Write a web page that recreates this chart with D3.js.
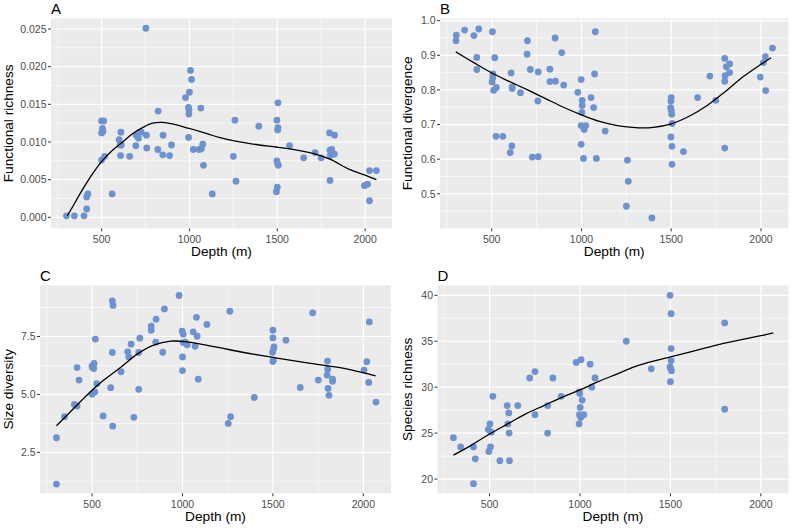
<!DOCTYPE html>
<html>
<head>
<meta charset="utf-8">
<script src="https://cdn.jsdelivr.net/npm/d3@7"></script>
<style>
  html, body { margin: 0; padding: 0; background: #ffffff; }
  svg { display: block; }
  text { font-family: "Liberation Sans", Arial, Helvetica, sans-serif; font-weight: 400; }
</style>
</head>
<body>
<script>
// ---------------- DATA ----------------
const xTicks = [500, 1000, 1500, 2000];

const yTicksA = [0, 0.005, 0.010, 0.015, 0.020, 0.025];
const yTicksB = [0.5, 0.6, 0.7, 0.8, 0.9, 1.0];
const yTicksC = [2.5, 5.0, 7.5];
const yTicksD = [20, 25, 30, 35, 40];

// Panel A: Functional richness vs depth
const pointsA = [
  [300,0.0002],[345,0.0002],[400,0.0002],[415,0.0011],[415,0.0027],[422,0.0031],[560,0.0031],
  [500,0.0076],[517,0.0081],[500,0.0112],[508,0.0114],[505,0.0118],[500,0.0128],[512,0.0128],
  [610,0.0113],[600,0.0103],[606,0.0096],[612,0.0096],[608,0.0082],[660,0.0081],[695,0.0095],
  [697,0.0109],[710,0.0105],[725,0.0113],[755,0.0109],[757,0.0092],[752,0.0251],[822,0.0141],
  [820,0.0090],[850,0.0109],[848,0.0083],[887,0.0082],[898,0.0096],[978,0.0159],[995,0.0146],
  [997,0.0143],[997,0.0137],[995,0.0106],[1000,0.0166],[1006,0.0195],[1012,0.0183],[1022,0.0090],
  [1065,0.0145],[1055,0.0090],[1068,0.0091],[1076,0.0097],[1080,0.0069],[1130,0.0031],
  [1259,0.0129],[1250,0.0081],[1265,0.0048],[1395,0.0121],[1504,0.0152],[1498,0.0129],
  [1504,0.0119],[1502,0.0116],[1498,0.0075],[1502,0.0071],[1506,0.0069],[1500,0.0040],
  [1495,0.0034],[1570,0.0095],[1650,0.0079],[1715,0.0086],[1750,0.0079],[1798,0.0112],
  [1826,0.0109],[1800,0.0089],[1810,0.0090],[1825,0.0084],[1802,0.0082],[1800,0.0049],
  [1996,0.0042],[2014,0.0044],[2025,0.0062],[2064,0.0062],[2025,0.0022]
];
const smoothA = [
  [305,0.0002],[335,0.0014],[392,0.0037],[449,0.0058],[500,0.0074],[562,0.0089],[619,0.0100],
  [676,0.0111],[733,0.0119],[790,0.0125],[847,0.0126],[903,0.0124],[998,0.0118],[1100,0.0111],
  [1169,0.0106],[1263,0.0101],[1396,0.0096],[1500,0.0093],[1642,0.0088],[1718,0.0084],
  [1803,0.0077],[1907,0.0064],[2000,0.0056],[2064,0.0050]
];

// Panel B: Functional divergence vs depth
const pointsB = [
  [301,0.942],[303,0.958],[349,0.973],[401,0.957],[428,0.976],[417,0.894],[417,0.859],[504,0.968],
  [517,0.893],[507,0.846],[506,0.835],[502,0.823],[511,0.799],[526,0.807],[524,0.666],[562,0.666],
  [608,0.849],[614,0.809],[614,0.804],[612,0.638],[603,0.619],[660,0.792],[699,0.942],[697,0.903],
  [715,0.859],[726,0.606],[759,0.607],[759,0.852],[757,0.768],[824,0.860],[824,0.824],[853,0.950],
  [855,0.825],[890,0.908],[901,0.814],[980,0.793],[998,0.830],[1004,0.770],[1004,0.755],[1002,0.735],
  [998,0.697],[998,0.643],[1011,0.694],[1015,0.686],[1024,0.697],[1011,0.602],[1053,0.778],
  [1068,0.749],[1073,0.846],[1077,0.968],[1083,0.602],[1132,0.681],[1256,0.597],[1261,0.536],
  [1250,0.464],[1392,0.430],[1500,0.778],[1498,0.768],[1497,0.749],[1500,0.741],[1503,0.730],
  [1505,0.703],[1498,0.664],[1504,0.637],[1504,0.585],[1568,0.622],[1647,0.778],[1715,0.840],
  [1748,0.770],[1798,0.891],[1807,0.867],[1825,0.875],[1800,0.841],[1825,0.850],[1798,0.825],
  [1798,0.632],[1996,0.837],[2013,0.879],[2024,0.896],[2026,0.798],[2064,0.921]
];
const smoothB = [
  [300,0.910],[400,0.879],[500,0.849],[600,0.824],[700,0.800],[800,0.775],[900,0.750],
  [1000,0.728],[1100,0.709],[1200,0.697],[1300,0.691],[1400,0.692],[1500,0.702],[1600,0.724],
  [1700,0.755],[1800,0.795],[1900,0.838],[2000,0.874],[2056,0.893]
];

// Panel C: Size diversity vs depth
const pointsC = [
  [303,1.13],[303,3.13],[347,4.04],[402,4.57],[417,4.50],[417,6.16],[428,5.62],[500,5.01],
  [515,5.11],[526,5.46],[502,6.16],[511,6.34],[509,6.12],[500,6.22],[518,7.39],[561,4.07],
  [603,5.29],[612,9.04],[616,8.84],[612,6.81],[614,3.63],[660,5.98],[697,6.84],[703,6.62],
  [716,7.17],[731,4.01],[758,6.81],[764,7.43],[758,5.22],[827,7.77],[827,7.95],[854,8.25],
  [852,7.26],[891,6.82],[900,8.69],[981,9.27],[998,7.73],[1004,7.60],[1004,7.24],[1000,6.62],
  [1000,6.03],[1015,7.26],[1026,7.14],[1059,7.70],[1077,8.33],[1081,7.51],[1070,7.08],
  [1087,5.66],[1135,8.02],[1262,8.59],[1253,3.75],[1266,4.04],[1397,4.87],[1500,7.77],
  [1500,7.44],[1506,7.05],[1504,6.97],[1498,6.82],[1500,6.42],[1502,6.48],[1572,7.34],
  [1651,5.30],[1720,8.52],[1751,5.62],[1802,6.44],[1803,6.09],[1800,5.83],[1805,5.26],
  [1810,4.96],[1830,5.66],[1830,5.57],[2004,6.05],[2019,6.41],[2033,8.13],[2030,5.52],[2070,4.67]
];
const smoothC = [
  [303,3.65],[399,4.40],[491,5.12],[565,5.62],[657,6.16],[749,6.74],[841,7.13],[934,7.30],
  [1026,7.27],[1183,7.05],[1340,6.81],[1506,6.59],[1708,6.34],[1893,6.12],[2068,5.80]
];

// Panel D: Species richness vs depth
const pointsD = [
  [300,24.5],[340,23.5],[411,23.5],[421,22.2],[411,19.5],[496,23.0],[505,23.5],[502,26.0],
  [493,25.4],[509,25.1],[518,29.0],[557,22.0],[597,28.0],[606,27.2],[601,26.0],[608,25.0],
  [610,22.0],[656,28.0],[722,31.0],[751,31.7],[751,27.0],[821,28.0],[821,25.0],[850,31.0],
  [896,29.0],[979,32.7],[1006,33.0],[1056,32.5],[1083,31.0],[1065,30.0],[997,29.5],[999,29.3],
  [1012,28.6],[1001,27.8],[997,27.0],[1004,26.7],[1021,27.0],[995,26.0],[1256,35.0],[1394,32.0],
  [1498,40.0],[1504,38.0],[1504,34.2],[1504,32.9],[1498,32.2],[1500,32.1],[1506,31.8],
  [1500,30.6],[1800,37.0],[1800,27.6]
];
const smoothD = [
  [300,22.6],[400,23.7],[500,24.9],[600,26.0],[700,27.1],[800,28.0],[900,28.9],[1000,29.7],
  [1100,30.6],[1200,31.4],[1300,32.2],[1400,32.8],[1500,33.3],[1600,33.8],[1700,34.3],
  [1800,34.8],[1900,35.2],[2000,35.6],[2069,35.9]
];

const panelTags = ["A", "B", "C", "D"];
const yTitles = ["Functional richness", "Functional divergence", "Size diversity", "Species richness"];
const xTitle = "Depth (m)";

// ---------------- LAYOUT ----------------
const W = 791, H = 529;
const panels = [
  { tag: panelTags[0], ytitle: yTitles[0], pts: pointsA, smooth: smoothA, yTicks: yTicksA, fmt: d3.format(".3f"),
    x0: 51, x1: 392, y0: 18.3, y1: 228.3, yDom: [-0.00146, 0.02642], yStep: 0.005, ytx: 13 },
  { tag: panelTags[1], ytitle: yTitles[1], pts: pointsB, smooth: smoothB, yTicks: yTicksB, fmt: d3.format(".1f"),
    x0: 440, x1: 788.5, y0: 18.3, y1: 228.3, yDom: [0.4003, 1.0069], yStep: 0.1, ytx: 412 },
  { tag: panelTags[2], ytitle: yTitles[2], pts: pointsC, smooth: smoothC, yTicks: yTicksC, fmt: d3.format(".1f"),
    x0: 40, x1: 391, y0: 285.3, y1: 493.3, yDom: [0.733, 9.71], yStep: 2.5, ytx: 12.5 },
  { tag: panelTags[3], ytitle: yTitles[3], pts: pointsD, smooth: smoothD, yTicks: yTicksD, fmt: d3.format("d"),
    x0: 437.5, x1: 788.5, y0: 285.3, y1: 493.3, yDom: [18.45, 41.09], yStep: 5, ytx: 411.5 }
];
const xDom = [212, 2153];
const xStep = 500;

const svg = d3.select("body").append("svg").attr("width", W).attr("height", H);
svg.append("rect").attr("width", W).attr("height", H).attr("fill", "#ffffff");

const PANEL_BG = "#EBEBEB", GRID = "#FFFFFF", POINT = "#6E92CE";
const TICK_TXT = "#4D4D4D", TICK_COL = "#333333";

function minors(ticks, step, dom) {
  const out = [];
  const all = [ticks[0] - step].concat(ticks);
  all.forEach(v => {
    const m = v + step / 2;
    if (m > dom[0] && m < dom[1]) out.push(m);
  });
  return out;
}

panels.forEach(p => {
  const g = svg.append("g");
  const x = d3.scaleLinear().domain(xDom).range([p.x0, p.x1]);
  const y = d3.scaleLinear().domain(p.yDom).range([p.y1, p.y0]);

  g.append("rect").attr("x", p.x0).attr("y", p.y0)
    .attr("width", p.x1 - p.x0).attr("height", p.y1 - p.y0).attr("fill", PANEL_BG);

  // minor grid
  const xMin = minors(xTicks, xStep, xDom);
  const yMin = minors(p.yTicks, p.yStep, p.yDom);
  g.selectAll(".xminor").data(xMin).join("line")
    .attr("x1", d => x(d)).attr("x2", d => x(d)).attr("y1", p.y0).attr("y2", p.y1)
    .attr("stroke", GRID).attr("stroke-width", 0.6);
  g.selectAll(".yminor").data(yMin).join("line")
    .attr("y1", d => y(d)).attr("y2", d => y(d)).attr("x1", p.x0).attr("x2", p.x1)
    .attr("stroke", GRID).attr("stroke-width", 0.6);
  // major grid
  g.selectAll(".xmajor").data(xTicks).join("line")
    .attr("x1", d => x(d)).attr("x2", d => x(d)).attr("y1", p.y0).attr("y2", p.y1)
    .attr("stroke", GRID).attr("stroke-width", 1.2);
  g.selectAll(".ymajor").data(p.yTicks).join("line")
    .attr("y1", d => y(d)).attr("y2", d => y(d)).attr("x1", p.x0).attr("x2", p.x1)
    .attr("stroke", GRID).attr("stroke-width", 1.2);

  // points
  g.selectAll(".pt").data(p.pts).join("circle")
    .attr("cx", d => x(d[0])).attr("cy", d => y(d[1])).attr("r", 3.4)
    .attr("fill", POINT);

  // smooth
  const line = d3.line().x(d => x(d[0])).y(d => y(d[1])).curve(d3.curveCatmullRom.alpha(0.5));
  g.append("path").datum(p.smooth).attr("d", line)
    .attr("fill", "none").attr("stroke", "#000000").attr("stroke-width", 1.3);

  // x axis ticks + labels
  g.selectAll(".xt").data(xTicks).join("line")
    .attr("x1", d => x(d)).attr("x2", d => x(d)).attr("y1", p.y1).attr("y2", p.y1 + 3)
    .attr("stroke", TICK_COL).attr("stroke-width", 1);
  g.selectAll(".xl").data(xTicks).join("text")
    .attr("x", d => x(d)).attr("y", p.y1 + 14.5).attr("text-anchor", "middle")
    .attr("font-size", 10.5).attr("fill", TICK_TXT).text(d => d);

  // y axis ticks + labels
  g.selectAll(".yt").data(p.yTicks).join("line")
    .attr("y1", d => y(d)).attr("y2", d => y(d)).attr("x1", p.x0 - 3).attr("x2", p.x0)
    .attr("stroke", TICK_COL).attr("stroke-width", 1);
  g.selectAll(".yl").data(p.yTicks).join("text")
    .attr("x", p.x0 - 4.5).attr("y", d => y(d)).attr("dy", "0.36em").attr("text-anchor", "end")
    .attr("font-size", 10.5).attr("fill", TICK_TXT).text(d => p.fmt(d));

  // titles
  g.append("text").attr("x", (p.x0 + p.x1) / 2).attr("y", p.y1 + 28)
    .attr("text-anchor", "middle").attr("font-size", 13.7).attr("fill", "#000").text(xTitle);
  g.append("text").attr("transform", `translate(${p.ytx},${(p.y0 + p.y1) / 2}) rotate(-90)`)
    .attr("text-anchor", "middle").attr("font-size", 13.7).attr("fill", "#000").text(p.ytitle);
  g.append("text").attr("x", p.x0).attr("y", p.y0 - 4.5)
    .attr("font-size", 15).attr("fill", "#000").text(p.tag);
});
</script>
</body>
</html>
